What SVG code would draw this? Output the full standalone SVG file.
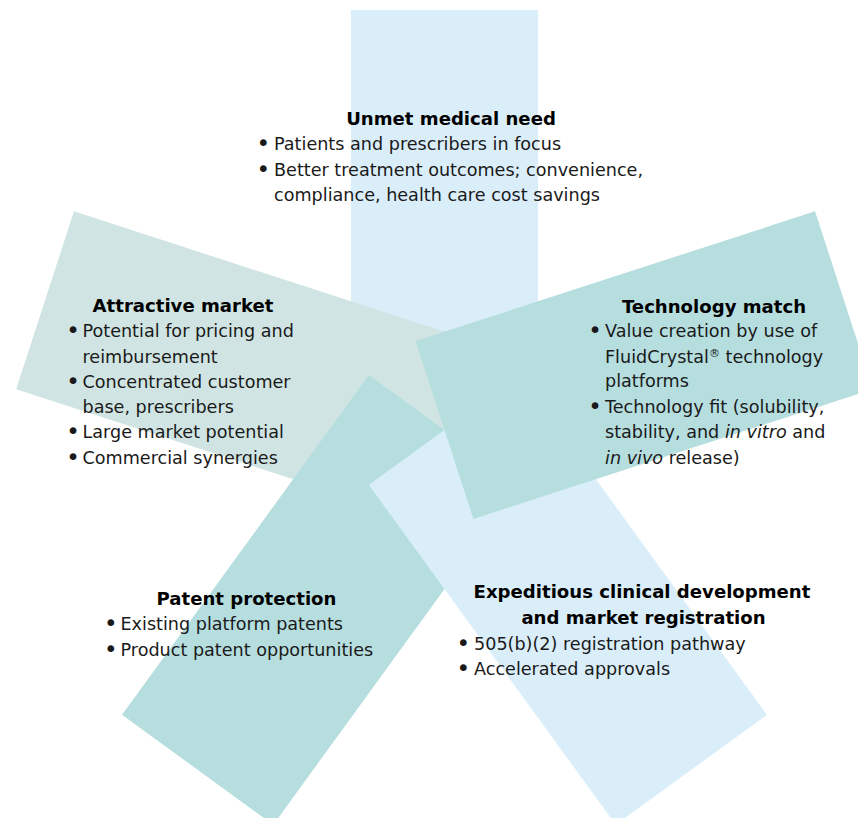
<svg xmlns="http://www.w3.org/2000/svg" width="858" height="818" viewBox="0 0 858 818">
<style>
.blue{fill:#DAEEFA}
.grey{fill:#D0E5E3}
.teal{fill:#B6DEDF}
text{font-family:"DejaVu Sans","Liberation Sans",sans-serif;fill:#1a1a1a}
.t{font-size:18.1px;font-weight:bold;text-anchor:middle;fill:#000}
.b{font-size:17.6px}
.d{font-size:23px}
.i{font-style:italic}
</style>
<defs>
<rect id="arm" x="-93.5" y="-420" width="187" height="420"/>
</defs>
<rect width="858" height="818" fill="#fff"/>
<g id="unmet-medical-need">
<use href="#arm" class="blue" transform="translate(444.5,430)"/>
<text class="t" x="451" y="125">Unmet medical need</text>
<text class="b" y="150"><tspan class="d" x="256.5" dy="1">•</tspan><tspan x="274" dy="-1">Patients and prescribers in focus</tspan></text>
<text class="b" y="175.5"><tspan class="d" x="256.5" dy="1">•</tspan><tspan x="274" dy="-1">Better treatment outcomes; convenience,</tspan></text>
<text class="b" x="274" y="200.5">compliance, health care cost savings</text>
</g>
<g id="attractive-market">
<use href="#arm" class="grey" transform="translate(444.5,430) rotate(288)"/>
<text class="t" x="183" y="312">Attractive market</text>
<text class="b" y="337"><tspan class="d" x="66.2" dy="1">•</tspan><tspan x="82.5" dy="-1">Potential for pricing and</tspan></text>
<text class="b" x="82.5" y="362.5">reimbursement</text>
<text class="b" y="388"><tspan class="d" x="66.2" dy="1">•</tspan><tspan x="82.5" dy="-1">Concentrated customer</tspan></text>
<text class="b" x="82.5" y="413">base, prescribers</text>
<text class="b" y="438"><tspan class="d" x="66.2" dy="1">•</tspan><tspan x="82.5" dy="-1">Large market potential</tspan></text>
<text class="b" y="463.5"><tspan class="d" x="66.2" dy="1">•</tspan><tspan x="82.5" dy="-1">Commercial synergies</tspan></text>
</g>
<g id="patent-protection">
<use href="#arm" class="teal" transform="translate(444.5,430) rotate(216)"/>
<text class="t" x="246.5" y="605">Patent protection</text>
<text class="b" y="630"><tspan class="d" x="104" dy="1">•</tspan><tspan x="120.5" dy="-1">Existing platform patents</tspan></text>
<text class="b" y="655.5"><tspan class="d" x="104" dy="1">•</tspan><tspan x="120.5" dy="-1">Product patent opportunities</tspan></text>
</g>
<g id="expeditious-development">
<use href="#arm" class="blue" transform="translate(444.5,430) rotate(144)"/>
<text class="t" x="642" y="598">Expeditious clinical development</text>
<text class="t" x="643.5" y="624">and market registration</text>
<text class="b" y="649.5"><tspan class="d" x="456.5" dy="1">•</tspan><tspan x="474" dy="-1">505(b)(2) registration pathway</tspan></text>
<text class="b" y="675"><tspan class="d" x="456.5" dy="1">•</tspan><tspan x="474" dy="-1">Accelerated approvals</tspan></text>
</g>
<g id="technology-match">
<use href="#arm" class="teal" transform="translate(444.5,430) rotate(72)"/>
<text class="t" x="714" y="312.5">Technology match</text>
<text class="b" y="337"><tspan class="d" x="588.3" dy="1">•</tspan><tspan x="605" dy="-1">Value creation by use of</tspan></text>
<text class="b" x="605" y="362.5">FluidCrystal<tspan font-size="11" dy="-6">®</tspan><tspan dy="6"> technology</tspan></text>
<text class="b" x="605" y="387">platforms</text>
<text class="b" y="413"><tspan class="d" x="588.3" dy="1">•</tspan><tspan x="605" dy="-1">Technology fit (solubility,</tspan></text>
<text class="b" x="605" y="438">stability, and <tspan class="i">in vitro</tspan> and</text>
<text class="b" x="605" y="463.5"><tspan class="i">in vivo</tspan> release)</text>
</g>
</svg>
